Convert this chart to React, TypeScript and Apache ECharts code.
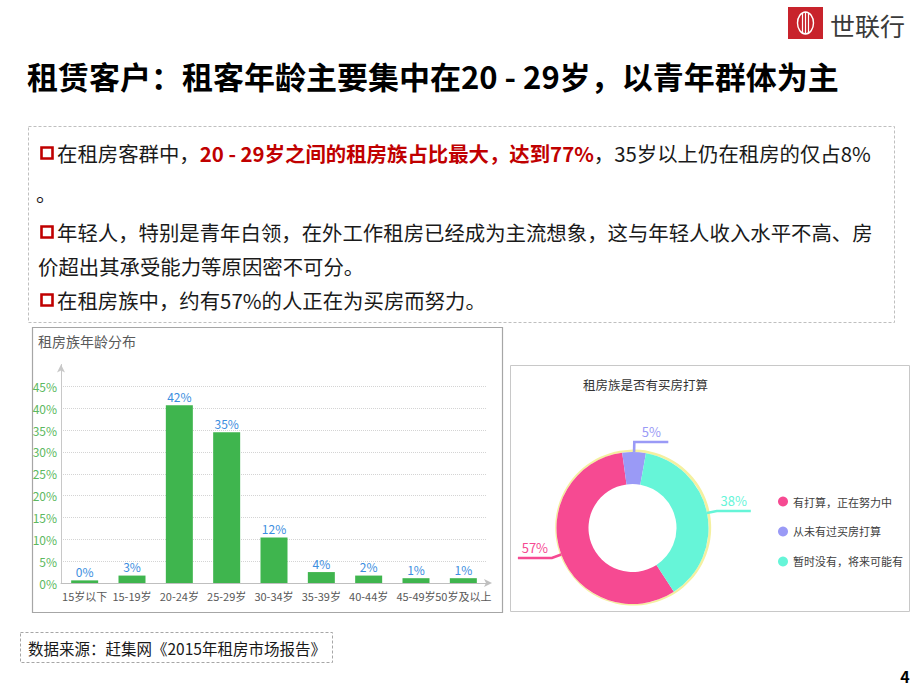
import React, { useEffect, useRef } from 'react';
import * as echarts from 'echarts';

// ---- data ----
const ageCategories = ['15岁以下', '15-19岁', '20-24岁', '25-29岁', '30-34岁', '35-39岁', '40-44岁', '45-49岁', '50岁及以上'];
const ageShares = [0.6, 1.7, 40.7, 34.5, 10.4, 2.5, 1.7, 1.1, 1.1];
const ageLabels = ['0%', '3%', '42%', '35%', '12%', '4%', '2%', '1%', '1%'];

const intentNames = ['有打算，正在努力中', '从未有过买房打算', '暂时没有，将来可能有'];
const intentShares = [57, 5, 38];
const intentColors = ['#f64a92', '#9a9af6', '#66f5d8'];

const pageTitle = '租赁客户：租客年龄主要集中在20 - 29岁，以青年群体为主';
const line1a = '在租房客群中，';
const line1b = '20 - 29岁之间的租房族占比最大，达到77%';
const line1c = '，35岁以上仍在租房的仅占8%';
const line2 = '。';
const line3 = '年轻人，特别是青年白领，在外工作租房已经成为主流想象，这与年轻人收入水平不高、房';
const line4 = '价超出其承受能力等原因密不可分。';
const line5 = '在租房族中，约有57%的人正在为买房而努力。';
const barTitle = '租房族年龄分布';
const pieTitle = '租房族是否有买房打算';
const sourceText = '数据来源：赶集网《2015年租房市场报告》';
const pageNo = '4';
const brand = '世联行';

const FONT = '"Noto Sans CJK SC", "Noto Sans", sans-serif';
const BODY = 20.4;

export default function App() {
  const ref = useRef<HTMLDivElement>(null);
  useEffect(() => {
    if (!ref.current) return;
    const chart = echarts.init(ref.current, undefined, { renderer: 'svg' });
    const bullet = (y: number) => ({
      type: 'rect',
      shape: { x: 41.5, y: y - 5.5, width: 11, height: 11 },
      style: { fill: 'none', stroke: '#c00000', lineWidth: 2.6 },
    });
    const bodyText = (x: number, y: number, text: string) => ({
      type: 'text',
      x, y,
      style: { text, font: `${BODY}px ${FONT}`, fill: '#1a1a1a', verticalAlign: 'middle' },
    });
    const option: any = {
      animation: false,
      textStyle: { fontFamily: FONT },
      graphic: [
        // logo
        { type: 'rect', shape: { x: 788, y: 7, width: 35, height: 32 }, style: { fill: '#c8232c' } },
        { type: 'ellipse', shape: { cx: 805.5, cy: 23, rx: 8, ry: 11 }, style: { fill: 'none', stroke: '#ffffff', lineWidth: 1.4 } },
        { type: 'line', shape: { x1: 802.5, y1: 13, x2: 802.5, y2: 33 }, style: { stroke: '#ffffff', lineWidth: 1.2 } },
        { type: 'line', shape: { x1: 805.5, y1: 12, x2: 805.5, y2: 34 }, style: { stroke: '#ffffff', lineWidth: 1.2 } },
        { type: 'line', shape: { x1: 808.5, y1: 13, x2: 808.5, y2: 33 }, style: { stroke: '#ffffff', lineWidth: 1.2 } },
        { type: 'text', x: 830, y: 25, style: { text: brand, font: `25px ${FONT}`, fill: '#3a3a3a', verticalAlign: 'middle' } },
        // page title
        { type: 'text', x: 27, y: 75, style: { text: pageTitle, font: `bold 31px ${FONT}`, fill: '#000000', verticalAlign: 'middle' } },
        // bullet box
        { type: 'rect', shape: { x: 28.5, y: 126.5, width: 866, height: 196 }, style: { fill: 'none', stroke: '#bfbfbf', lineWidth: 1, lineDash: [3, 2] } },
        bullet(153),
        {
          type: 'text', x: 57, y: 153,
          style: {
            text: `{a|${line1a}}{b|${line1b}}{a|${line1c}}`,
            verticalAlign: 'middle',
            rich: {
              a: { fontSize: BODY, fontFamily: FONT, fill: '#1a1a1a' },
              b: { fontSize: BODY, fontFamily: FONT, fill: '#c00000', fontWeight: 'bold' },
            },
          },
        },
        bodyText(36, 193, line2),
        bullet(232),
        bodyText(57, 232, line3),
        bodyText(38, 266, line4),
        bullet(300),
        bodyText(57, 300, line5),
        // bar panel
        { type: 'rect', shape: { x: 32.5, y: 327.5, width: 470, height: 285 }, style: { fill: 'none', stroke: '#a6a6a6', lineWidth: 1.2 } },
        { type: 'text', x: 38, y: 341, style: { text: barTitle, font: `14px ${FONT}`, fill: '#595959', verticalAlign: 'middle' } },
        // pie panel
        { type: 'rect', shape: { x: 510.5, y: 365.5, width: 399, height: 246 }, style: { fill: 'none', stroke: '#c8c8c8', lineWidth: 1 } },
        { type: 'text', x: 583, y: 384, style: { text: pieTitle, font: `12.5px ${FONT}`, fill: '#333333', verticalAlign: 'middle' } },
        // source
        { type: 'rect', shape: { x: 20.5, y: 632.5, width: 312, height: 30 }, style: { fill: 'none', stroke: '#a6a6a6', lineWidth: 1, lineDash: [3, 2] } },
        { type: 'text', x: 28, y: 648, style: { text: sourceText, font: `15.5px ${FONT}`, fill: '#1a1a1a', verticalAlign: 'middle' } },
        // page number
        { type: 'text', x: 905, y: 676, style: { text: pageNo, font: `bold 16px ${FONT}`, fill: '#000000', verticalAlign: 'middle', align: 'center' } },
      ],
      grid: { left: 61, top: 364.5, width: 426, height: 218.5, containLabel: false },
      xAxis: {
        type: 'category',
        data: ageCategories,
        axisLine: { show: true, lineStyle: { color: '#bfbfbf', width: 1 }, symbol: ['none', 'arrow'], symbolSize: [6, 8], symbolOffset: [0, 5] },
        axisTick: { show: false },
        axisLabel: { color: '#595959', fontSize: 11, margin: 7, interval: 0, fontFamily: FONT },
        splitLine: { show: false },
      },
      yAxis: {
        type: 'value',
        min: 0,
        max: 50,
        interval: 5,
        axisLine: { show: true, lineStyle: { color: '#c8c8c8', width: 1 }, symbol: ['none', 'arrow'], symbolSize: [6, 8] },
        axisTick: { show: false },
        axisLabel: { color: '#5cb860', fontSize: 12, margin: 4, formatter: '{value}%', showMaxLabel: false, fontFamily: FONT },
        splitLine: { show: true, showMaxLine: false, showMinLine: false, lineStyle: { color: '#d4d4d4', type: 'dotted', width: 1 } },
      },
      legend: {
        orient: 'vertical',
        left: 778,
        top: 496,
        padding: 0,
        itemWidth: 10,
        itemHeight: 10,
        itemGap: 19,
        icon: 'circle',
        data: intentNames,
        textStyle: { fontSize: 11, color: '#404040', fontFamily: FONT },
      },
      series: [
        {
          type: 'bar',
          data: ageShares,
          barWidth: 27,
          itemStyle: { color: '#3fb54e' },
          label: {
            show: true,
            position: 'top',
            distance: 3,
            color: '#3c8ee0',
            fontSize: 12,
            fontFamily: FONT,
            formatter: (p: any) => ageLabels[p.dataIndex],
          },
        },
        {
          type: 'pie',
          silent: true,
          center: [632.5, 528],
          radius: [76, 78],
          startAngle: 303,
          label: { show: false },
          labelLine: { show: false },
          itemStyle: { color: '#f4f0a0' },
          data: [{ value: 1, name: 'ring' }],
          z: 1,
        },
        {
          type: 'pie',
          center: [632.5, 528],
          radius: [44, 76],
          startAngle: 303,
          clockwise: true,
          avoidLabelOverlap: false,
          data: intentNames.map((n, i) => ({ name: n, value: intentShares[i], itemStyle: { color: intentColors[i] } })),
          label: {
            show: true,
            position: 'outside',
            formatter: '{c}%',
            fontSize: 13,
            fontFamily: FONT,
            color: 'inherit',
          },
          labelLine: { show: true, length: 10, length2: 34, lineStyle: { width: 2.6 } },
          labelLayout: (p: any) => {
            const pts = p.labelLinePoints;
            if (!pts || pts.length < 3) return {};
            const b = pts[1];
            const c = pts[2];
            return {
              x: (b[0] + c[0]) / 2,
              y: c[1] - 4,
              align: 'center',
              verticalAlign: 'bottom',
              labelLinePoints: pts,
            };
          },
          z: 3,
        },
      ],
    };
    chart.setOption(option);
    return () => chart.dispose();
  }, []);
  return (
    <div
      ref={ref}
      style={{ position: 'absolute', left: 0, top: 0, width: 920, height: 690, background: '#ffffff' }}
    />
  );
}
